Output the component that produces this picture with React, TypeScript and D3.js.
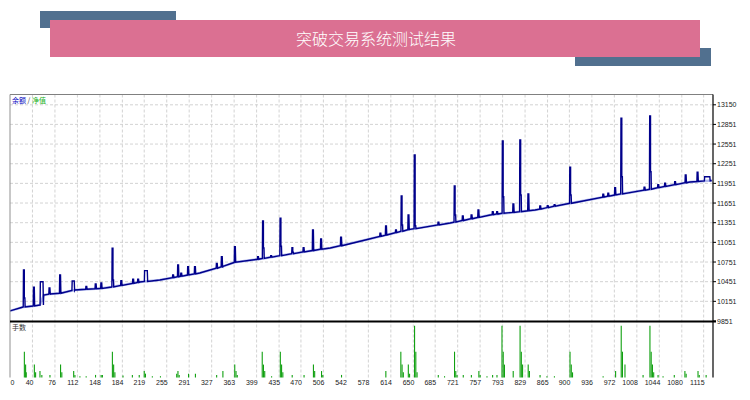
import React from "react";
import * as d3 from "d3";

const title = "突破交易系统测试结果";

const xTickLabels = [40, 76, 112, 148, 184, 219, 255, 291, 327, 363, 399, 435, 470, 506, 542, 578, 614, 650, 685, 721, 757, 793, 829, 865, 900, 936, 972, 1008, 1044, 1080, 1115];
const yTickLabels = [9851, 10151, 10451, 10751, 11051, 11351, 11651, 11951, 12251, 12551, 12851, 13150];

// balance baseline anchors [index, value]
const baseline: [number, number][] = [
  [4, 10005], [25, 10065], [41, 10080], [52, 10095], [58, 10248], [68, 10263], [84, 10274],
  [108, 10324], [148, 10347], [167, 10370], [212, 10446], [244, 10477], [289, 10553],
  [308, 10583], [344, 10680], [364, 10747], [404, 10797], [436, 10847], [484, 10919],
  [517, 10965], [573, 11087], [606, 11163], [645, 11250], [709, 11346], [773, 11468],
  [845, 11545], [901, 11647], [973, 11774], [1029, 11861], [1093, 11972], [1128, 11995],
];

// spikes [index, base, peak, shoulder (0 = none), width]
const spikes: [number, number, number, number, number][] = [
  [26, 10066, 10629, 10202, 0], [42, 10081, 10365, 0, 0], [53, 10095, 10451, 0, 3],
  [67, 10262, 10354, 0, 0], [84, 10274, 10553, 0, 0], [104, 10316, 10461, 0, 2],
  [126, 10335, 10380, 0, 0], [141, 10343, 10416, 0, 0], [150, 10348, 10431, 0, 0],
  [168, 10371, 10960, 10477, 0], [182, 10394, 10466, 0, 0], [201, 10425, 10487, 0, 0],
  [209, 10440, 10487, 0, 0], [220, 10454, 10619, 0, 3], [265, 10513, 10553, 0, 0],
  [273, 10526, 10705, 0, 0], [278, 10534, 10580, 0, 0], [289, 10553, 10680, 0, 0],
  [300, 10570, 10680, 0, 0], [335, 10656, 10731, 0, 0], [343, 10677, 10832, 0, 0],
  [364, 10747, 10985, 0, 0], [401, 10793, 10832, 0, 0], [409, 10805, 11377, 10965, 0],
  [422, 10825, 10847, 0, 0], [437, 10849, 11418, 10992, 0], [456, 10877, 10969, 10900, 0],
  [474, 10904, 10969, 0, 0], [489, 10926, 11240, 0, 0], [502, 10947, 11102, 0, 0],
  [534, 10999, 11128, 0, 0], [597, 11143, 11190, 0, 0], [606, 11163, 11300, 0, 0],
  [622, 11199, 11240, 0, 0], [631, 11220, 11758, 11316, 0], [642, 11245, 11468, 0, 0],
  [652, 11260, 12384, 11305, 0], [690, 11318, 11360, 0, 0], [716, 11359, 11911, 11468, 0],
  [729, 11384, 11453, 0, 0], [743, 11411, 11470, 0, 0], [754, 11432, 11545, 0, 0],
  [777, 11473, 11520, 0, 0], [784, 11483, 11519, 0, 0], [793, 11497, 12597, 11748, 0],
  [810, 11508, 11636, 0, 0], [821, 11519, 12613, 11774, 0], [834, 11533, 11789, 0, 0],
  [853, 11559, 11605, 0, 0], [865, 11582, 11610, 0, 0], [876, 11602, 11625, 0, 0],
  [901, 11647, 12196, 11774, 0], [954, 11740, 11785, 0, 0], [962, 11755, 11800, 0, 0],
  [973, 11774, 11885, 0, 0], [983, 11789, 12944, 12053, 0], [1020, 11847, 11891, 0, 0],
  [1029, 11861, 12979, 12129, 0], [1042, 11884, 11930, 0, 0], [1053, 11903, 11952, 0, 0],
  [1069, 11930, 11977, 0, 0], [1086, 11960, 12079, 0, 0], [1105, 11980, 12120, 0, 0],
  [1117, 11988, 12053, 0, 7],
];

// lots [index, lots]
const lots: [number, number][] = [
  [27, 1.0], [29, 0.5], [30, 0.2], [43, 0.5], [45, 0.2], [52, 0.25], [55, 0.1], [68, 0.1],
  [85, 0.5], [87, 0.2], [106, 0.25], [108, 0.1], [116, 0.05], [126, 0.05], [141, 0.1],
  [150, 0.1], [152, 0.1], [168, 1.0], [170, 0.5], [172, 0.2], [185, 0.08], [200, 0.1],
  [211, 0.1], [219, 0.25], [221, 0.15], [232, 0.05], [245, 0.05], [271, 0.15], [273, 0.25],
  [275, 0.1], [290, 0.15], [301, 0.15], [335, 0.1], [345, 0.25], [364, 0.5], [366, 0.25],
  [368, 0.1], [408, 1.0], [410, 0.5], [412, 0.25], [423, 0.05], [437, 1.0], [439, 0.5],
  [441, 0.2], [456, 0.1], [475, 0.1], [490, 0.5], [492, 0.25], [503, 0.25], [505, 0.1],
  [535, 0.1], [606, 0.25], [630, 1.0], [632, 0.5], [634, 0.2], [642, 0.5], [644, 0.15],
  [652, 2.0], [654, 1.0], [656, 0.2], [690, 0.1], [700, 0.05], [716, 1.0], [718, 0.25],
  [720, 0.1], [730, 0.1], [743, 0.1], [755, 0.25], [757, 0.1], [768, 0.05], [777, 0.1],
  [784, 0.1], [792, 2.0], [794, 1.0], [796, 0.5], [810, 0.25], [821, 2.0], [823, 1.0],
  [825, 0.5], [834, 0.5], [836, 0.25], [853, 0.1], [864, 0.05], [876, 0.05], [901, 1.0],
  [903, 0.5], [905, 0.2], [954, 0.05], [974, 0.25], [983, 2.0], [985, 1.0], [989, 0.5],
  [1018, 0.1], [1029, 2.0], [1031, 1.0], [1033, 0.5], [1035, 0.2], [1042, 0.1], [1050, 0.05],
  [1068, 0.1], [1085, 0.25], [1087, 0.15], [1106, 0.25], [1108, 0.1], [1119, 0.1],
];

const FRAME_L = 10, FRAME_R = 713, FRAME_T = 94.5, SPLIT = 321.5, BOTTOM = 377.5;

export default function App() {
  const x = d3.scaleLinear().domain([4, 1130]).range([FRAME_L, FRAME_R]);
  const y = d3.scaleLinear().domain([9851, 13150]).range([321, 104.8]);
  const yl = d3.scaleLinear().domain([0, 2.15]).range([BOTTOM, SPLIT + 0.5]);

  type P = [number, number];
  const events: { i: number; pts: P[] }[] = [];
  baseline.forEach(([i, v]) => events.push({ i, pts: [[i, v]] }));
  spikes.forEach(([i, b, p, s, w]) => {
    const pts: P[] = [[i - 0.8, b], [i - 0.4, p], [i + 0.9 + w, p]];
    const e = i + w + 0.9;
    if (s > 0) { pts.push([e, s]); pts.push([e + 0.9, s]); pts.push([e + 1.3, b]); }
    else pts.push([e + 0.6, b]);
    events.push({ i, pts });
  });
  events.sort((a, b) => a.i - b.i);
  const allPts: P[] = events.flatMap((e) => e.pts);
  const line = d3.line<P>().x((d) => x(d[0])).y((d) => y(d[1]));
  const basePath = line(baseline) || "";

  const font = "'Liberation Sans', 'DejaVu Sans', sans-serif";
  const cjk = "'Noto Sans CJK SC', sans-serif";

  return (
    <svg width={750} height={400} style={{ position: "absolute", left: 0, top: 0, background: "#fff" }}>
      <defs>
        <clipPath id="top">
          <rect x={FRAME_L} y={FRAME_T} width={FRAME_R - FRAME_L} height={SPLIT - FRAME_T} />
        </clipPath>
      </defs>
      {/* banner */}
      <rect x={40} y={11} width={136} height={17} fill="#51708f" />
      <rect x={575} y={48} width={136} height={18} fill="#51708f" />
      <rect x={50} y={20} width={650} height={37} fill="#db7092" />
      <text x={376} y={45} textAnchor="middle" fill="#fff" fontSize={16} fontFamily={cjk} fontWeight={300}>
        {title}
      </text>

      {/* gridlines */}
      {xTickLabels.map((v) => (
        <line key={"gx" + v} x1={x(v)} x2={x(v)} y1={FRAME_T} y2={BOTTOM} stroke="#c8c8c8" strokeDasharray="3,2" strokeWidth={0.8} />
      ))}
      {yTickLabels.slice(1).map((v) => (
        <line key={"gy" + v} x1={FRAME_L} x2={FRAME_R} y1={y(v)} y2={y(v)} stroke="#c8c8c8" strokeDasharray="3,2" strokeWidth={0.8} />
      ))}

      {/* balance */}
      <g clipPath="url(#top)">
        <path d={basePath} fill="none" stroke="#6f7fe0" strokeWidth={2.4} opacity={0.55} />
        <path d={line(allPts) || ""} fill="none" stroke="#00008b" strokeWidth={1.4} strokeLinejoin="miter" />
      </g>

      {/* lots */}
      {lots.map(([i, v], k) => (
        <line key={"l" + k} x1={x(i)} x2={x(i)} y1={BOTTOM} y2={yl(v)} stroke="#10a010" strokeWidth={1.1} />
      ))}

      {/* frame */}
      <line x1={FRAME_L} x2={FRAME_R} y1={FRAME_T} y2={FRAME_T} stroke="#808080" strokeWidth={1} />
      <line x1={FRAME_L} x2={FRAME_L} y1={FRAME_T} y2={BOTTOM} stroke="#909090" strokeWidth={1} />
      <line x1={FRAME_R} x2={FRAME_R} y1={FRAME_T} y2={BOTTOM} stroke="#000" strokeWidth={1.2} />
      <line x1={FRAME_L} x2={FRAME_R + 3} y1={SPLIT} y2={SPLIT} stroke="#000" strokeWidth={2} />

      {/* right axis */}
      {yTickLabels.map((v) => (
        <g key={"ty" + v}>
          <line x1={FRAME_R} x2={FRAME_R + 3} y1={y(v)} y2={y(v)} stroke="#000" strokeWidth={1} />
          <text x={FRAME_R + 4} y={y(v) + 2.5} fontSize={7} fontFamily={font} fill="#222">{v}</text>
        </g>
      ))}

      {/* bottom axis */}
      <text x={FRAME_L + 0.5} y={384.5} fontSize={7} fontFamily={font} fill="#222">0</text>
      {xTickLabels.map((v) => (
        <text key={"tx" + v} x={x(v) + 1} y={384.5} textAnchor="end" fontSize={7} fontFamily={font} fill="#222">{v}</text>
      ))}

      {/* legends */}
      <text x={12} y={103} fontSize={7} fontFamily={cjk}>
        <tspan fill="#0000c0">余额</tspan>
        <tspan fill="#333"> / </tspan>
        <tspan fill="#20b020">净值</tspan>
      </text>
      <text x={12} y={330} fontSize={7} fontFamily={cjk} fill="#333">手数</text>
    </svg>
  );
}
